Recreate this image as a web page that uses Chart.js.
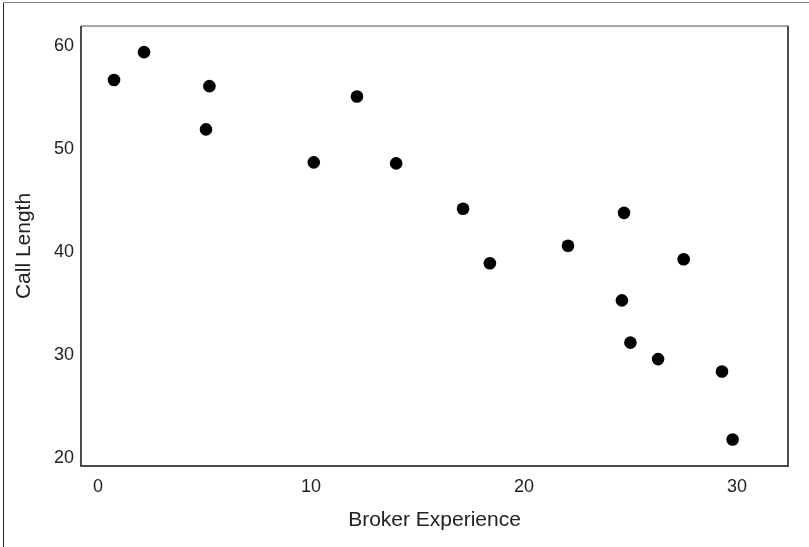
<!DOCTYPE html>
<html>
<head>
<meta charset="utf-8">
<script src="https://cdn.jsdelivr.net/npm/chart.js@4"></script>
<style>
  html, body { margin: 0; padding: 0; background: #fff; }
  #wrap { width: 809px; height: 547px; position: relative; }
</style>
</head>
<body>
<div id="wrap"><canvas id="c" width="809" height="547"></canvas></div>
<script>
// Data
const brokerExperience = [0.75, 2.16, 5.07, 5.23, 10.13, 12.16, 14.0, 17.14, 18.4, 22.07, 24.6, 24.7, 25.0, 26.3, 27.5, 29.3, 29.8];
const callLength       = [56.7, 59.4, 51.9, 56.1, 48.7, 55.1, 48.6, 44.2, 38.9, 40.6, 35.3, 43.8, 31.2, 29.6, 39.3, 28.4, 21.8];
const xTickLabels = [0, 10, 20, 30];
const yTickLabels = [20, 30, 40, 50, 60];
const xTitle = 'Broker Experience';
const yTitle = 'Call Length';

const points = brokerExperience.map((x, i) => ({ x: x, y: callLength[i] }));

const framePlugin = {
  id: 'frames',
  beforeDraw(chart) {
    const ctx = chart.ctx;
    ctx.save();
    ctx.fillStyle = '#fff';
    ctx.fillRect(0, 0, chart.width, chart.height);
    // outer frame (top and left visible)
    ctx.lineWidth = 1;
    ctx.strokeStyle = '#888';
    ctx.beginPath(); ctx.moveTo(3, 2.5); ctx.lineTo(chart.width, 2.5); ctx.stroke();
    ctx.strokeStyle = '#222';
    ctx.beginPath(); ctx.moveTo(3.5, 3); ctx.lineTo(3.5, chart.height); ctx.stroke();
    ctx.restore();
  },
  afterDraw(chart) {
    const a = chart.chartArea;
    const ctx = chart.ctx;
    ctx.save();
    ctx.lineWidth = 1.5;
    ctx.strokeStyle = '#888';
    ctx.beginPath(); ctx.moveTo(a.left, a.top); ctx.lineTo(a.right, a.top); ctx.stroke();
    ctx.strokeStyle = '#111';
    ctx.beginPath();
    ctx.moveTo(a.right, a.top); ctx.lineTo(a.right, a.bottom);
    ctx.lineTo(a.left, a.bottom); ctx.lineTo(a.left, a.top);
    ctx.stroke();
    ctx.restore();
  }
};

new Chart(document.getElementById('c'), {
  type: 'scatter',
  data: {
    datasets: [{
      data: points,
      backgroundColor: '#000',
      borderColor: '#000',
      borderWidth: 0,
      pointRadius: 6.3,
      pointHoverRadius: 6.3
    }]
  },
  options: {
    responsive: false,
    animation: false,
    devicePixelRatio: 1,
    layout: { padding: { left: 0, top: 26, right: 21, bottom: 0 } },
    plugins: { legend: { display: false }, tooltip: { enabled: false } },
    scales: {
      x: {
        type: 'linear',
        min: -0.8,
        max: 32.4,
        afterBuildTicks(scale) { scale.ticks = xTickLabels.map(v => ({ value: v })); },
        afterFit(scale) { scale.height = 81; },
        grid: { display: false, drawTicks: false },
        border: { display: false },
        ticks: {
          padding: 10,
          color: '#222',
          font: { family: 'Liberation Sans, Arial, sans-serif', size: 18 },
          maxRotation: 0
        },
        title: {
          display: true,
          text: xTitle,
          color: '#222',
          font: { family: 'Liberation Sans, Arial, sans-serif', size: 21 },
          padding: { top: 0, bottom: 14 }
        }
      },
      y: {
        type: 'linear',
        min: 19.22,
        max: 61.94,
        afterBuildTicks(scale) { scale.ticks = yTickLabels.map(v => ({ value: v })); },
        afterFit(scale) { scale.width = 81; },
        grid: { display: false, drawTicks: false },
        border: { display: false },
        ticks: {
          padding: 7,
          color: '#222',
          font: { family: 'Liberation Sans, Arial, sans-serif', size: 18 }
        },
        title: {
          display: true,
          text: yTitle,
          color: '#222',
          font: { family: 'Liberation Sans, Arial, sans-serif', size: 21 },
          padding: { top: 12, bottom: 0 }
        }
      }
    }
  },
  plugins: [framePlugin]
});
</script>
</body>
</html>
